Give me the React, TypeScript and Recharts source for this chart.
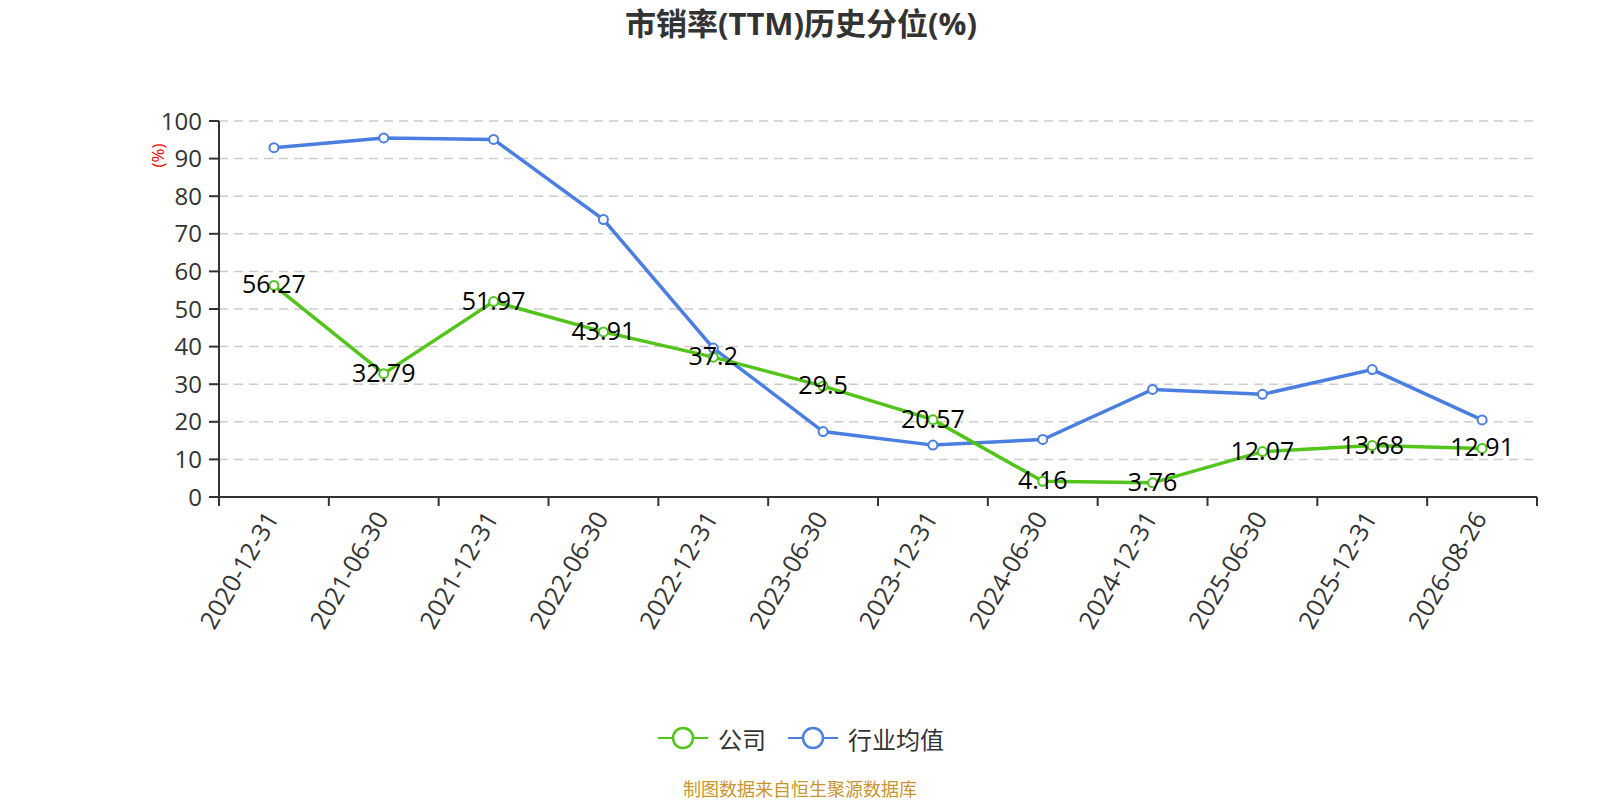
import React from 'react';
import { LineChart, Line, XAxis, YAxis, CartesianGrid, LabelList } from 'recharts';

const categories = ['2020-12-31', '2021-06-30', '2021-12-31', '2022-06-30', '2022-12-31', '2023-06-30', '2023-12-31', '2024-06-30', '2024-12-31', '2025-06-30', '2025-12-31', '2026-08-26'];
const companyValues = [56.27, 32.79, 51.97, 43.91, 37.2, 29.5, 20.57, 4.16, 3.76, 12.07, 13.68, 12.91];
const industryValues = [92.9, 95.5, 95.1, 73.8, 39.6, 17.4, 13.8, 15.3, 28.6, 27.3, 33.9, 20.5];
const yTicks = [0, 10, 20, 30, 40, 50, 60, 70, 80, 90, 100];

const seriesNames = ['公司', '行业均值'];
const GREEN = '#52c41a';
const BLUE = '#4a7fe1';
const FONT = "'Open Sans','Noto Sans CJK SC',sans-serif";

const data = categories.map((c, i) => ({ date: c, company: companyValues[i], industry: industryValues[i] }));

const XTick = (props: any) => {
  const { x, y, payload, width, visibleTicksCount, index } = props;
  const band = width / visibleTicksCount;
  const isLast = index === visibleTicksCount - 1;
  const ax = x - 3;
  const ay = y + 16;
  return (
    <g>
      <line x1={x - band / 2} y1={y} x2={x - band / 2} y2={y + 9} stroke="#333" strokeWidth={2} />
      {isLast && <line x1={x + band / 2} y1={y} x2={x + band / 2} y2={y + 9} stroke="#333" strokeWidth={2} />}
      <text x={ax} y={ay} transform={`rotate(-60, ${ax}, ${ay})`} textAnchor="end" dominantBaseline="central" fontSize={25} fill="#333" fontFamily={FONT}>
        {payload.value}
      </text>
    </g>
  );
};

const PointLabel = (props: any) => {
  const { x, y, value } = props;
  return (
    <text x={x} y={y - 2} textAnchor="middle" dominantBaseline="central" fontSize={25} fill="#000" fontFamily={FONT}>
      {value}
    </text>
  );
};

const LegendIcon = ({ color }: { color: string }) => (
  <svg width={50} height={26} style={{ display: 'block' }}>
    <line x1={0} y1={13} x2={50} y2={13} stroke={color} strokeWidth={2} />
    <circle cx={25} cy={13} r={10} fill="#fff" stroke={color} strokeWidth={2.5} />
  </svg>
);

export default function App() {
  return (
    <div style={{ position: 'absolute', left: 0, top: 0, width: 1600, height: 800, background: '#fff', fontFamily: FONT }}>
      <div style={{ position: 'absolute', left: 0, top: 2, width: 1602, textAlign: 'center', fontSize: 31, fontWeight: 'bold', color: '#333', lineHeight: '42px' }}>
        市销率(TTM)历史分位(%)
      </div>
      <div style={{ position: 'absolute', left: 145, top: 143, width: 25, height: 25, color: 'red', fontSize: 17, lineHeight: '25px', display: 'flex', alignItems: 'center', justifyContent: 'center', transform: 'rotate(-90deg)', whiteSpace: 'nowrap' }}>
        (%)
      </div>
      <LineChart width={1600} height={800} data={data} margin={{ top: 121, right: 63, left: 139, bottom: 153 }} style={{ position: 'absolute', left: 0, top: 0 }}>
        <CartesianGrid horizontal vertical={false} stroke="#ccc" strokeDasharray="9 6" strokeWidth={1.5} />
        <XAxis dataKey="date" scale="band" height={150} interval={0} tickSize={0} tickMargin={0} tick={<XTick />} axisLine={{ stroke: '#333', strokeWidth: 2 }} tickLine={false} />
        <YAxis width={80} domain={[0, 100]} ticks={yTicks} interval={0} tickSize={10} tickMargin={7} axisLine={{ stroke: '#333', strokeWidth: 2 }} tickLine={{ stroke: '#333', strokeWidth: 2 }} tick={{ fontSize: 24, fill: '#333', fontFamily: FONT }} />
        <Line type="linear" dataKey="industry" name={seriesNames[1]} stroke={BLUE} strokeWidth={3.5} dot={{ r: 4.5, fill: '#fff', stroke: BLUE, strokeWidth: 2 }} isAnimationActive={false} />
        <Line type="linear" dataKey="company" name={seriesNames[0]} stroke={GREEN} strokeWidth={3.5} dot={{ r: 4.5, fill: '#fff', stroke: GREEN, strokeWidth: 2 }} isAnimationActive={false}>
          <LabelList dataKey="company" content={<PointLabel />} />
        </Line>
      </LineChart>
      <div style={{ position: 'absolute', left: 658, top: 724, display: 'flex', alignItems: 'center', height: 28, fontSize: 24, color: '#333', whiteSpace: 'nowrap' }}>
        <LegendIcon color={GREEN} />
        <span style={{ marginLeft: 10 }}>{seriesNames[0]}</span>
        <span style={{ marginLeft: 22 }}><LegendIcon color={BLUE} /></span>
        <span style={{ marginLeft: 10 }}>{seriesNames[1]}</span>
      </div>
      <div style={{ position: 'absolute', left: 0, top: 777, width: 1600, textAlign: 'center', fontSize: 18, color: '#c8952e', lineHeight: '24px' }}>
        制图数据来自恒生聚源数据库
      </div>
    </div>
  );
}
